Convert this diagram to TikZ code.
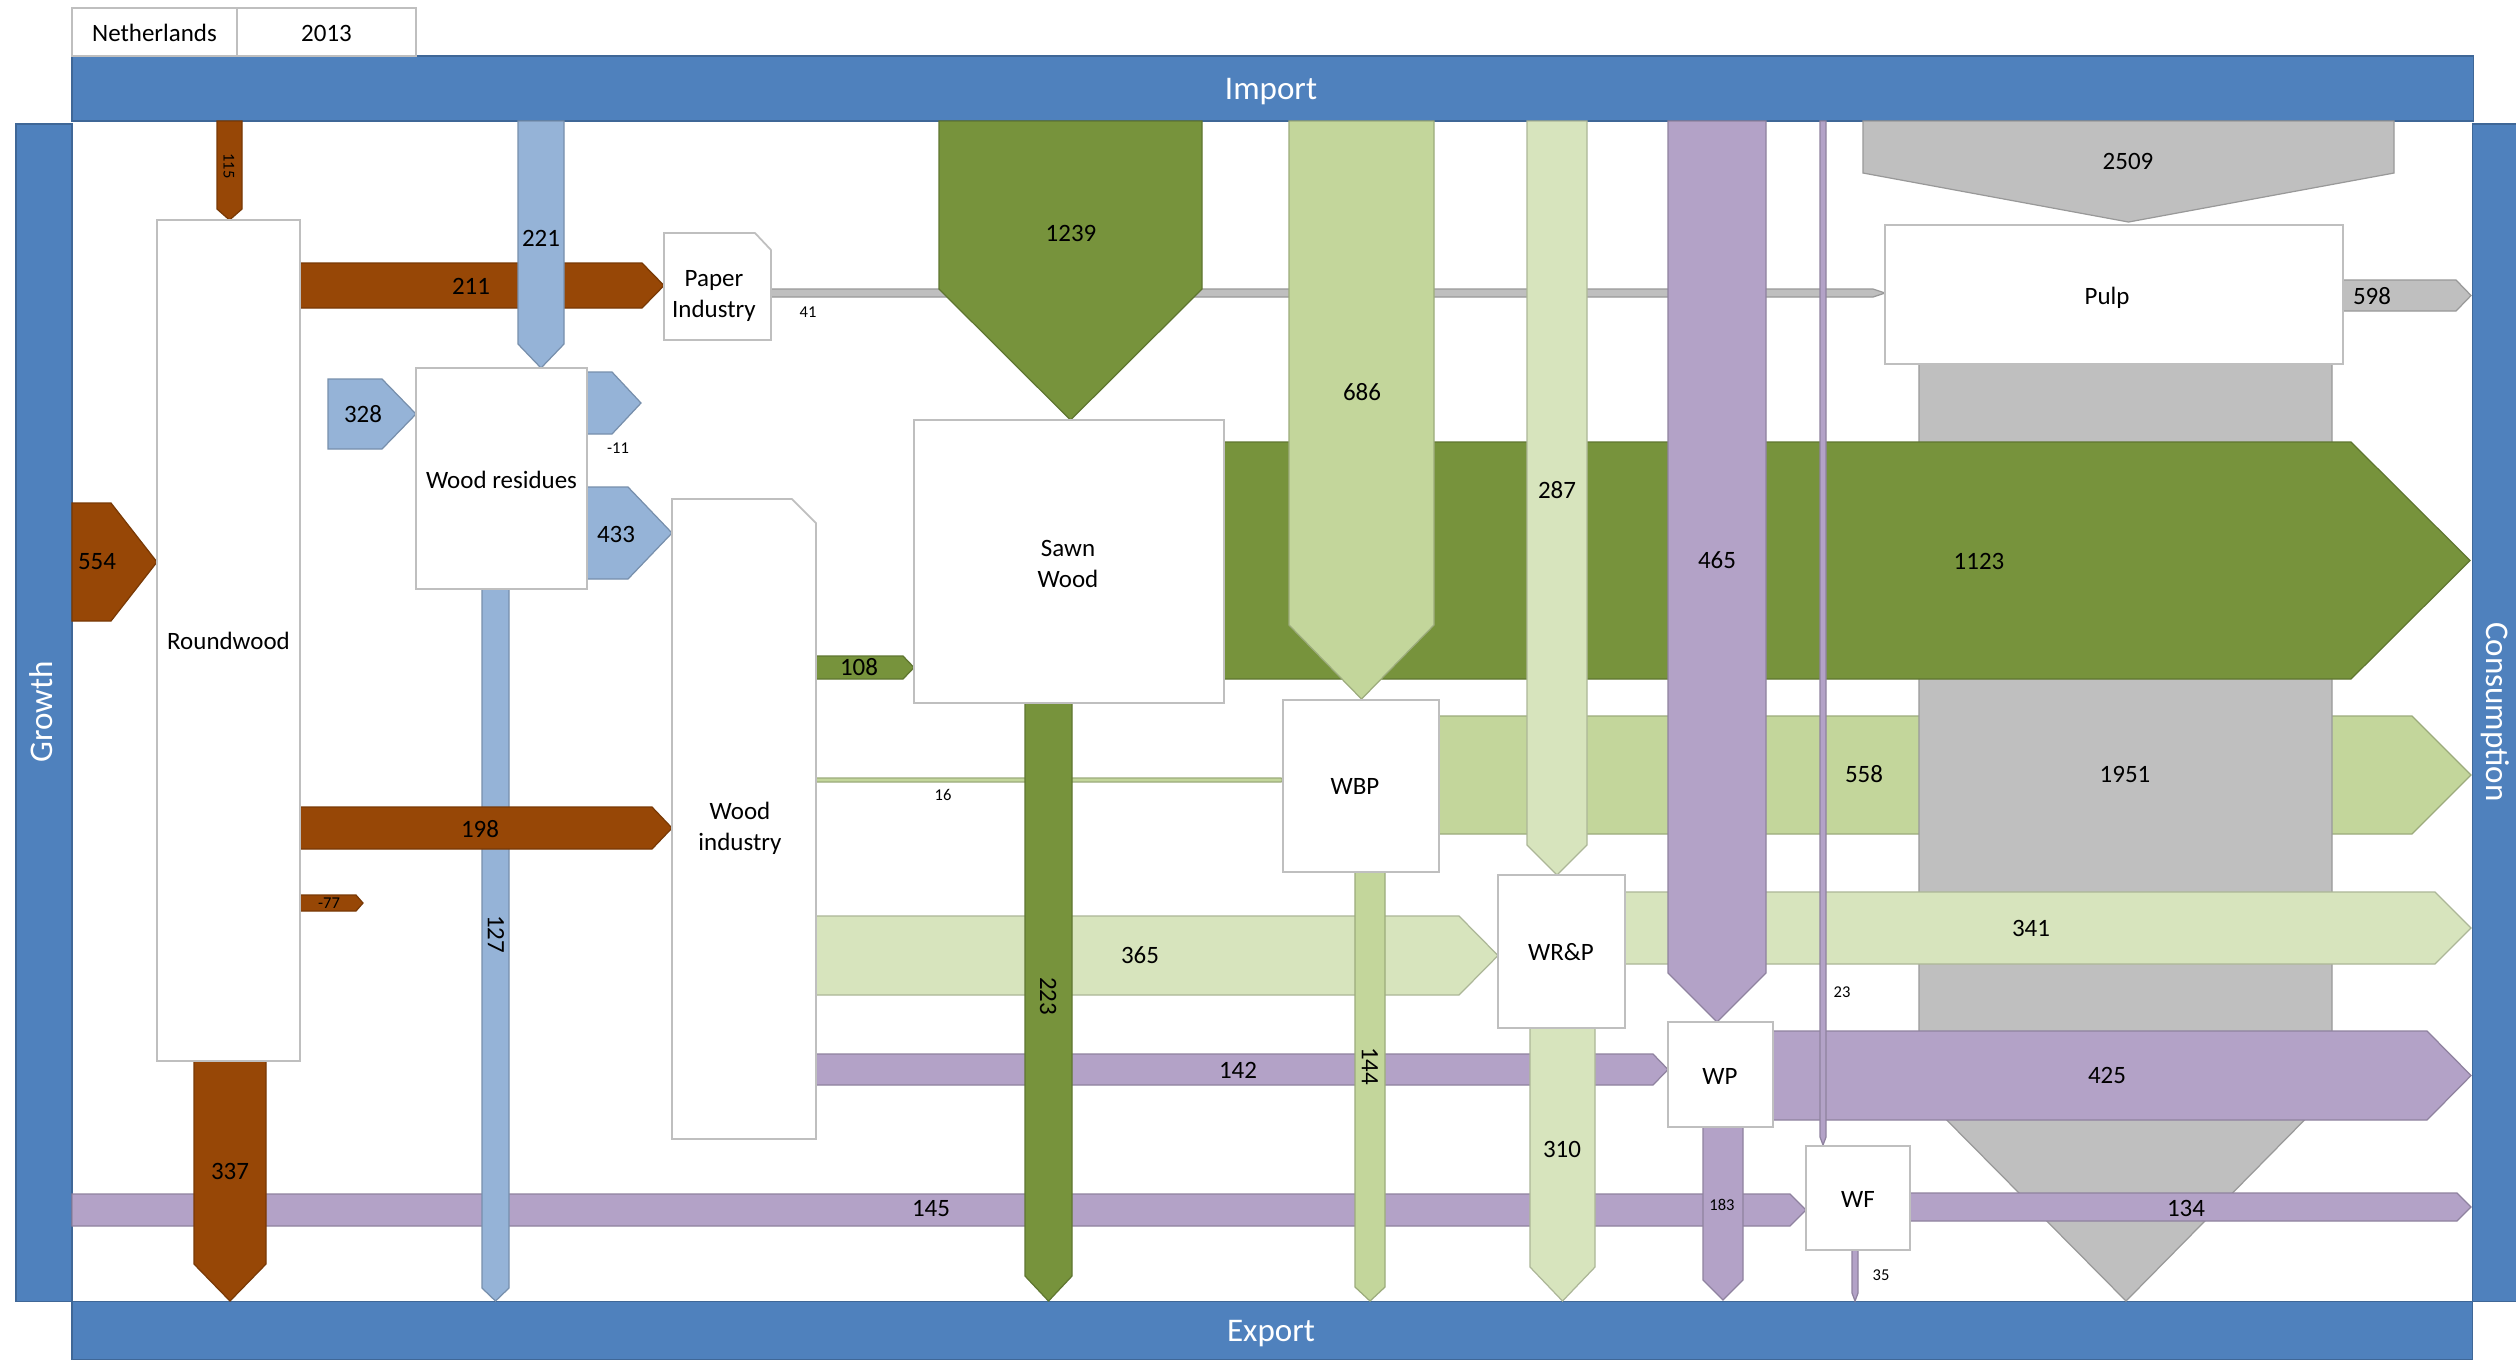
\documentclass[tikz,border=0pt]{standalone}
\usepackage{fontspec}
\setmainfont{Carlito}
\definecolor{barblue}{RGB}{79,129,189}
\definecolor{brn}{RGB}{151,71,6}
\definecolor{lblue}{RGB}{149,179,215}
\definecolor{dgreen}{RGB}{119,147,60}
\definecolor{mgreen}{RGB}{195,214,155}
\definecolor{lgreen}{RGB}{215,228,189}
\definecolor{purp}{RGB}{179,162,199}
\definecolor{gry}{RGB}{191,191,191}
\newcommand\flowR[6]{\filldraw[flow=#1] (#2,#5) -- (#3,#5) -- (#4,{(#5+#6)/2}) -- (#3,#6) -- (#2,#6) -- cycle;}
\newcommand\flowD[6]{\filldraw[flow=#1] (#2,#4) -- (#3,#4) -- (#3,#5) -- ({(#2+#3)/2},#6) -- (#2,#5) -- cycle;}
\begin{document}
\begin{tikzpicture}[x={(0.01cm,0)},y={(0,-0.01cm)},
  flow/.style={fill=#1, draw=#1!80!black, line width=0.35pt},
  boxst/.style={fill=white, draw=black!25, line width=0.5pt},
  lbl/.style={font=\fontsize{7.1}{8.8}\selectfont, inner sep=0pt, align=center},
  sml/.style={font=\fontsize{4.7}{5.6}\selectfont, inner sep=0pt},
  barlbl/.style={font=\fontsize{9.4}{11}\selectfont, text=white, inner sep=0pt, anchor=base}]
\useasboundingbox (0,0) rectangle (2516,1359);
\fill[white] (0,0) rectangle (2516,1359);
% frame bars
\filldraw[fill=barblue, draw=barblue!80!black, line width=0.3pt] (72,56) rectangle (2473,121);
\filldraw[fill=barblue, draw=barblue!80!black, line width=0.3pt] (16,124) rectangle (72,1301);
\filldraw[fill=barblue, draw=barblue!80!black, line width=0.3pt] (2472,124) rectangle (2516,1301);
\filldraw[fill=barblue, draw=barblue!80!black, line width=0.3pt] (72,1301) rectangle (2472,1359);
\node[barlbl] (imp) at (1271,99) {Import};
\node[barlbl] (exp) at (1271,1341) {Export};
\node[barlbl, rotate=90] (gro) at (52,712) {Growth};
\node[barlbl, rotate=-90] (con) at (2486,712) {Consumption};
% table
\draw[black!25, line width=0.5pt] (72,8) rectangle (237,56);
\draw[black!25, line width=0.5pt] (237,8) rectangle (416,56);
\node[lbl] (ctry) at (154.5,33) {Netherlands};
\node[lbl] (yr) at (326.5,33) {2013};
% thin gray 41
\flowR{gry}{771}{1873}{1885}{289}{297}
% horizontal flows (lower layer)
\flowR{brn}{300}{642}{664}{263}{308}
\flowR{brn}{72}{111}{157}{503}{621}
\flowR{brn}{300}{356}{363}{895}{911}
\flowR{lblue}{328}{382}{416}{379}{449}
\flowR{lblue}{587}{612}{641}{372}{434}
\flowR{lblue}{587}{628}{672}{487}{579}
\flowR{dgreen}{816}{903}{914}{656}{679}
\flowR{mgreen}{816}{1281}{1283}{778}{782}
\flowR{lgreen}{816}{1459}{1498}{916}{995}
\flowR{purp}{816}{1653}{1668}{1054}{1085}
\flowR{purp}{72}{1790}{1806}{1194}{1226}
\flowR{mgreen}{1439}{2412}{2471}{716}{834}
% gray 1951 pulp to export
\filldraw[flow=gry] (1919,364) -- (2332,364) -- (2332,1092) -- (2126,1301) -- (1919,1092) -- cycle;
% flows over gray
\flowR{dgreen}{1224}{2351}{2470}{442}{679}
\flowR{lgreen}{1625}{2435}{2471}{892}{964}
\flowR{purp}{1773}{2427}{2471}{1031}{1120}
\flowR{purp}{1910}{2457}{2471}{1193}{1221}
\flowR{gry}{2343}{2456}{2471}{280}{311}
% vertical flows
\flowD{brn}{217}{242}{121}{209}{220}
\flowD{lblue}{518}{564}{121}{344}{368}
\flowD{lblue}{482}{509}{589}{1288}{1301}
\flowR{brn}{300}{652}{672}{807}{849}
\flowD{brn}{194}{266}{1061}{1264}{1301}
\flowD{dgreen}{939}{1202}{121}{289}{420}
\flowD{dgreen}{1025}{1072}{703}{1276}{1301}
\flowD{mgreen}{1289}{1434}{121}{625}{699}
\flowD{mgreen}{1355}{1385}{872}{1287}{1301}
\flowD{lgreen}{1527}{1587}{121}{845}{875}
\flowD{lgreen}{1530}{1595}{1028}{1267}{1301}
\flowD{purp}{1668}{1766}{121}{973}{1022}
\flowD{purp}{1703}{1743}{1127}{1280}{1300}
\flowD{purp}{1820}{1826}{121}{1137}{1145}
\flowD{purp}{1852}{1858}{1250}{1293}{1301}
\flowD{gry}{1863}{2394}{121}{173}{222}
% boxes
\filldraw[boxst] (157,220) rectangle (300,1061);
\node[lbl] (rw) at (228.5,641) {Roundwood};
\filldraw[boxst] (664,233) -- (755,233) -- (771,250) -- (771,340) -- (664,340) -- cycle;
\node[lbl] (pi) at (714,296) {Paper\\Industry};
\filldraw[boxst] (416,368) rectangle (587,589);
\node[lbl] (wr) at (501.5,480) {Wood residues};
\filldraw[boxst] (672,499) -- (792,499) -- (816,523) -- (816,1139) -- (672,1139) -- cycle;
\node[lbl] (wi) at (740,828) {Wood\\industry};
\filldraw[boxst] (914,420) rectangle (1224,703);
\node[lbl] (sw) at (1068,564) {Sawn\\Wood};
\filldraw[boxst] (1283,700) rectangle (1439,872);
\node[lbl] (wbp) at (1355,786) {WBP};
\filldraw[boxst] (1498,875) rectangle (1625,1028);
\node[lbl] (wrp) at (1561,952) {WR\&P};
\filldraw[boxst] (1668,1022) rectangle (1773,1127);
\node[lbl] (wp) at (1720,1076) {WP};
\filldraw[boxst] (1806,1146) rectangle (1910,1250);
\node[lbl] (wf) at (1858,1199) {WF};
\filldraw[boxst] (1885,225) rectangle (2343,364);
\node[lbl] (pulp) at (2107,298) {Pulp};
% flow labels
\node[sml, rotate=-90] (l115) at (229,166) {115};
\node[lbl] (l211) at (471,286) {211};
\node[lbl] (l554) at (97,562) {554};
\node[lbl] (l198) at (480,829) {198};
\node[sml] (l77) at (329,903) {-77};
\node[lbl] (l337) at (230,1171) {337};
\node[lbl] (l221) at (541,238) {221};
\node[lbl] (l328) at (363,414) {328};
\node[sml] (l11) at (618,448) {-11};
\node[lbl] (l433) at (616,534) {433};
\node[lbl, rotate=-90] (l127) at (496,934) {127};
\node[lbl] (l1239) at (1071,233) {1239};
\node[lbl] (l108) at (859,667) {108};
\node[lbl] (l1123) at (1979,561) {1123};
\node[lbl, rotate=-90] (l223) at (1048,996) {223};
\node[lbl] (l686) at (1362,392) {686};
\node[sml] (l16) at (943,795) {16};
\node[lbl] (l558) at (1864,774) {558};
\node[lbl, rotate=-90] (l144) at (1370,1066) {144};
\node[lbl] (l287) at (1557,490) {287};
\node[lbl] (l365) at (1140,955) {365};
\node[lbl] (l341) at (2031,928) {341};
\node[lbl] (l310) at (1562,1149) {310};
\node[lbl] (l465) at (1717,560) {465};
\node[sml] (l23) at (1842,992) {23};
\node[lbl] (l142) at (1238,1070) {142};
\node[lbl] (l425) at (2107,1075) {425};
\node[lbl] (l145) at (931,1209) {145};
\node[sml] (l183) at (1722,1205) {183};
\node[lbl] (l134) at (2186,1208) {134};
\node[sml] (l35) at (1881,1275) {35};
\node[lbl] (l2509) at (2128,161) {2509};
\node[sml] (l41) at (808,312) {41};
\node[lbl] (l598) at (2372,296) {598};
\node[lbl] (l1951) at (2125,774) {1951};
\end{tikzpicture}
\end{document}
